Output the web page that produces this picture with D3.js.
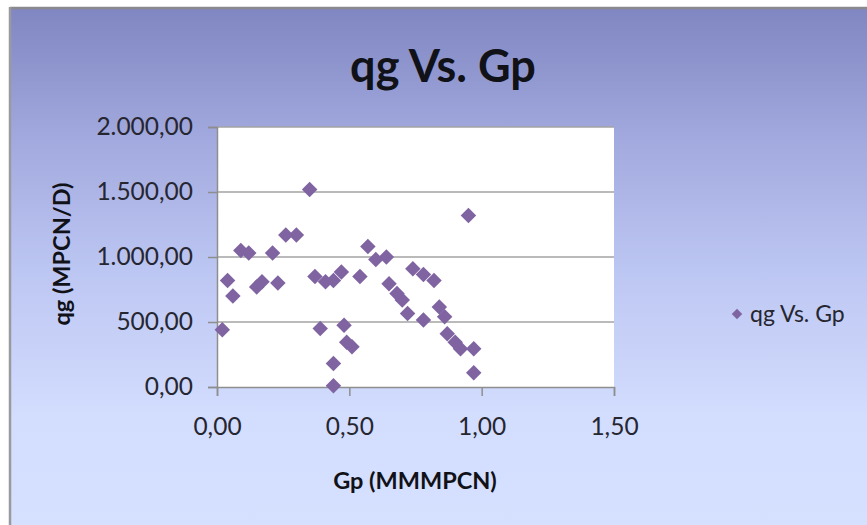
<!DOCTYPE html>
<html>
<head>
<meta charset="utf-8">
<script src="https://cdn.jsdelivr.net/npm/d3@7"></script>
<style>
  html, body { margin: 0; padding: 0; background: #ffffff; }
  svg { display: block; }
  text { font-family: Lato, "Open Sans", "Noto Sans", sans-serif; }
</style>
</head>
<body>
<svg id="chart" width="867" height="525"></svg>
<script>
// Cumulative gas production (MMMPCN) and gas rate (MPCN/D)
const gpValues = [0.02, 0.04, 0.06, 0.09, 0.12, 0.15, 0.17, 0.21, 0.23, 0.26,
                  0.30, 0.35, 0.37, 0.39, 0.41, 0.44, 0.47, 0.44, 0.44, 0.48,
                  0.49, 0.51, 0.54, 0.57, 0.60, 0.64, 0.65, 0.68, 0.70, 0.72,
                  0.74, 0.78, 0.82, 0.78, 0.84, 0.86, 0.87, 0.90, 0.92, 0.97,
                  0.97, 0.95];
const qgValues = [440, 820, 700, 1050, 1030, 770, 810, 1030, 800, 1170,
                  1170, 1520, 850, 450, 810, 820, 885, 180, 10, 475,
                  345, 310, 850, 1080, 980, 1000, 795, 720, 670, 565,
                  910, 865, 820, 515, 615, 540, 410, 345, 295, 295,
                  110, 1320];

const xTicks = [0, 0.5, 1.0, 1.5];
const yTicks = [0, 500, 1000, 1500, 2000];

const chartTitle = "qg Vs. Gp";
const xTitle = "Gp (MMMPCN)";
const yTitle = "qg (MPCN/D)";
const seriesName = "qg Vs. Gp";

const W = 867, H = 525;
const plot = { left: 217, right: 614, top: 127, bottom: 387 };
const markerColor = "#8064a2";
const textColor = "#262630";
const gridColor = "#a3a3a3";

const locale = d3.formatLocale({ decimal: ",", thousands: ".", grouping: [3], currency: ["", ""] });
const fmt = locale.format(",.2f");

const svg = d3.select("#chart");

// Chart background gradient
const defs = svg.append("defs");
const grad = defs.append("linearGradient")
  .attr("id", "bg").attr("x1", 0).attr("y1", 0).attr("x2", 0).attr("y2", 1);
grad.append("stop").attr("offset", "0%").attr("stop-color", "#7f86c1");
grad.append("stop").attr("offset", "25%").attr("stop-color", "#a2a9de");
grad.append("stop").attr("offset", "50%").attr("stop-color", "#bcc6f2");
grad.append("stop").attr("offset", "78%").attr("stop-color", "#d3ddfe");
grad.append("stop").attr("offset", "100%").attr("stop-color", "#d6e0ff");

svg.append("rect")
  .attr("x", 10).attr("y", 7).attr("width", W).attr("height", H)
  .attr("fill", "url(#bg)");
// frame edges
svg.append("line").attr("x1", 10).attr("x2", W).attr("y1", 8).attr("y2", 8)
  .attr("stroke", "#8a8a8e").attr("stroke-width", 2.5);
svg.append("line").attr("x1", 10).attr("x2", 10).attr("y1", 7).attr("y2", H)
  .attr("stroke", "#9a9a9e").attr("stroke-width", 2.5);

// Scales
const x = d3.scaleLinear().domain([0, 1.5]).range([plot.left, plot.right]);
const y = d3.scaleLinear().domain([0, 2000]).range([plot.bottom, plot.top]);

// Plot area
svg.append("rect")
  .attr("x", plot.left).attr("y", plot.top)
  .attr("width", plot.right - plot.left).attr("height", plot.bottom - plot.top)
  .attr("fill", "#ffffff");

// Horizontal gridlines
svg.append("g").selectAll("line").data(yTicks.filter(d => d > 0)).join("line")
  .attr("x1", plot.left).attr("x2", plot.right)
  .attr("y1", d => y(d)).attr("y2", d => y(d))
  .attr("stroke", gridColor).attr("stroke-width", 1.5);

// Y axis
const yAxis = svg.append("g")
  .attr("transform", `translate(${plot.left},0)`)
  .call(d3.axisLeft(y).tickValues(yTicks).tickFormat(fmt).tickSize(9).tickPadding(15));
yAxis.select(".domain").attr("stroke", "#8e8e8e").attr("stroke-width", 1.5);
yAxis.selectAll(".tick line").attr("stroke", "#8e8e8e").attr("stroke-width", 1.5);
yAxis.selectAll(".tick text")
  .attr("fill", textColor).style("font-size", "24.5px").style("font-family", null);

// X axis
const xAxis = svg.append("g")
  .attr("transform", `translate(0,${plot.bottom})`)
  .call(d3.axisBottom(x).tickValues(xTicks).tickFormat(fmt).tickSize(9).tickPadding(22));
xAxis.select(".domain").attr("stroke", "#8e8e8e").attr("stroke-width", 1.5);
xAxis.selectAll(".tick line").attr("stroke", "#8e8e8e").attr("stroke-width", 1.5);
xAxis.selectAll(".tick text")
  .attr("fill", textColor).style("font-size", "24.5px").style("font-family", null);

// Data markers (diamonds)
const diamond = d3.symbol().type(d3.symbolSquare).size(120);
svg.append("g").selectAll("path")
  .data(gpValues.map((g, i) => ({ gp: g, qg: qgValues[i] })))
  .join("path")
  .attr("d", diamond)
  .attr("transform", d => `translate(${x(d.gp)},${y(d.qg)}) rotate(45)`)
  .attr("fill", markerColor);

// Title
svg.append("text")
  .attr("x", 443).attr("y", 82)
  .attr("text-anchor", "middle")
  .attr("fill", "#111118")
  .style("font-size", "45px").style("font-weight", "bold")
  .text(chartTitle);

// Axis titles
svg.append("text")
  .attr("x", 415).attr("y", 489)
  .attr("text-anchor", "middle")
  .attr("fill", "#111118")
  .style("font-size", "23.5px").style("font-weight", "bold")
  .text(xTitle);

svg.append("text")
  .attr("transform", "translate(70,254) rotate(-90)")
  .attr("text-anchor", "middle")
  .attr("fill", "#111118")
  .style("font-size", "23.5px").style("font-weight", "bold")
  .text(yTitle);

// Legend
const legend = svg.append("g").attr("transform", "translate(737,314)");
legend.append("path")
  .attr("d", d3.symbol().type(d3.symbolSquare).size(55))
  .attr("transform", "rotate(45)")
  .attr("fill", markerColor);
legend.append("text")
  .attr("x", 13).attr("y", 8)
  .attr("fill", textColor)
  .style("font-size", "23px")
  .text(seriesName);
</script>
</body>
</html>
